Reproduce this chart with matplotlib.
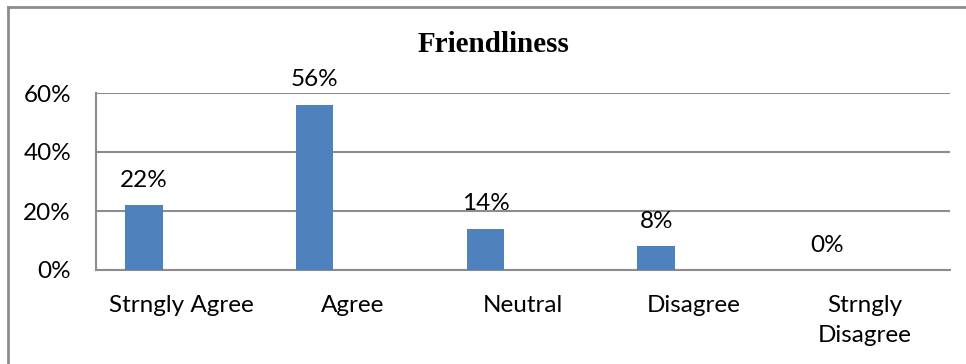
import matplotlib.pyplot as plt
from matplotlib.lines import Line2D

categories = ['Strngly Agree', 'Agree', 'Neutral', 'Disagree', 'Strngly\nDisagree']
values = [22, 56, 14, 8, 0]
yticks = [0, 20, 40, 60]

W, H = 966, 364
fig = plt.figure(figsize=(W / 100, H / 100), dpi=100)
# axes placement in pixels: left 96, right 950, top 93, bottom 270
ax = fig.add_axes([96 / W, 1 - 270 / H, (950 - 96) / W, (270 - 93) / H])

grid_c = '#8c8c8c'
bar_c = '#4f81bd'
font = 'Lato'
fs = 17.5

x = list(range(len(categories)))
bx = [i - 0.22 for i in x]
ax.bar(bx, values, width=0.22, color=bar_c, zorder=3)

for xi, v in zip(bx, values):
    ax.annotate(f'{v}%', (xi, v), xytext=(0, 18), textcoords='offset points',
                ha='center', va='center', fontsize=fs, family=font)

ax.set_xlim(-0.5, len(categories) - 0.5)
ax.set_ylim(0, 60)
ax.set_yticks(yticks)
ax.set_yticklabels([f'{t}%' for t in yticks], fontsize=fs, family=font)
ax.set_xticks(x)
ax.set_xticklabels(categories, fontsize=fs, family=font, va='top', linespacing=1.55)
ax.tick_params(axis='both', length=0)
ax.tick_params(axis='y', pad=18)
ax.tick_params(axis='x', pad=18)
ax.yaxis.grid(True, color=grid_c, linewidth=1.5, zorder=0)
for s in ['top', 'right']:
    ax.spines[s].set_visible(False)
for s in ['left', 'bottom']:
    ax.spines[s].set_color(grid_c)
    ax.spines[s].set_linewidth(1.5)

fig.text(494 / W, 1 - 44 / H, 'Friendliness', ha='center', va='center',
         fontsize=21, fontweight='bold', family='Liberation Serif')

# outer chart border (top and left visible)
fig.add_artist(Line2D([8 / W, 1], [1 - 6.5 / H] * 2, color='#8c8c8c', lw=2,
                      transform=fig.transFigure))
fig.add_artist(Line2D([8 / W] * 2, [0, 1 - 6.5 / H], color='#8c8c8c', lw=2,
                      transform=fig.transFigure))

fig.savefig('out.png', dpi=100)
